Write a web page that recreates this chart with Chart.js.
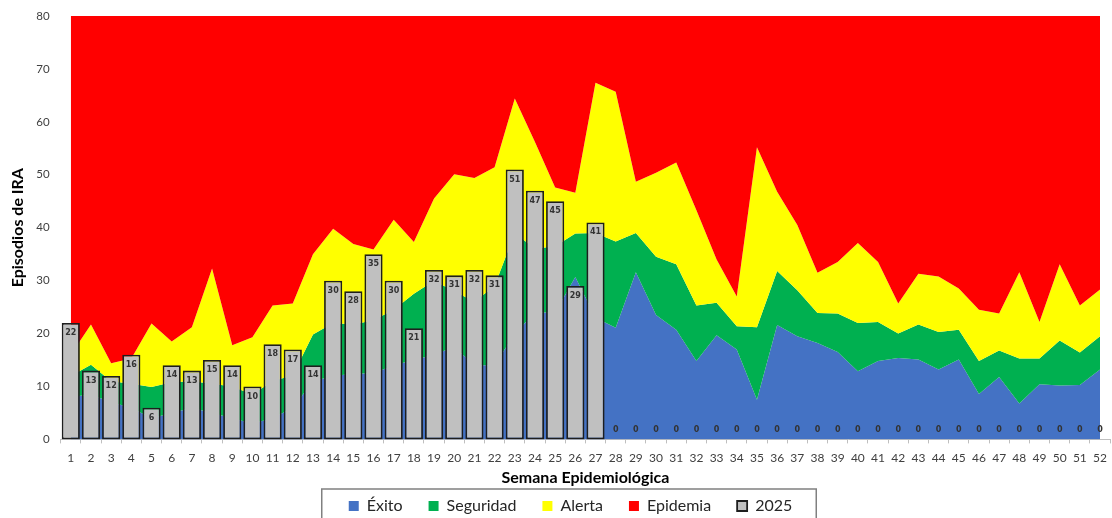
<!DOCTYPE html>
<html>
<head>
<meta charset="utf-8">
<script src="https://cdn.jsdelivr.net/npm/chart.js@4.4.1/dist/chart.umd.min.js"></script>
<style>
html,body{margin:0;padding:0;overflow:hidden;background:#ffffff;}
#wrap{position:relative;width:1115px;height:524px;}
</style>
</head>
<body>
<div id="wrap"><canvas id="c"></canvas></div>
<script>
// ----- data -----
const semanas = ['1','2','3','4','5','6','7','8','9','10','11','12','13','14','15','16','17','18','19','20','21','22','23','24','25','26','27','28','29','30','31','32','33','34','35','36','37','38','39','40','41','42','43','44','45','46','47','48','49','50','51','52'];

// upper limit of each zone of the endemic channel
const exito = [8,8.5,7,6,4,5,6,5,4,3,4,6,11,12,12.4,12.5,14,15,16,17.5,14,14,20,24,24,30.7,23,21.1,31.6,23.5,20.7,14.8,19.7,17.0,7.5,21.6,19.5,18.2,16.5,12.9,14.8,15.4,15.1,13.2,15.1,8.6,11.8,6.8,10.4,10.2,10.3,13.2];
const seguridad = [12,14.1,11,10.5,9.9,10.8,11,10.5,10,8.5,11,12.1,19.8,22,21.7,22.5,24.5,27.5,30,28,26,29,39,36,36.5,38.9,39.0,37.4,39.0,34.5,33.1,25.3,25.8,21.4,21.2,31.8,28.2,23.9,23.8,22.0,22.2,20.0,21.7,20.3,20.7,14.8,16.8,15.3,15.3,18.7,16.4,19.5];
const alerta = [16,21.7,14.4,15.3,21.9,18.5,21.2,32.3,17.8,19.3,25.3,25.7,35.0,39.8,36.9,35.9,41.5,37.3,45.5,50.1,49.4,51.4,64.4,56.2,47.6,46.6,67.4,65.7,48.7,50.4,52.3,43.3,34.0,27.0,55.2,46.8,40.5,31.5,33.5,37.1,33.5,25.7,31.3,30.8,28.5,24.5,23.8,31.6,22.2,33.1,25.3,28.3];
// observed episodes 2025
const casos2025 = [22,13,12,16,6,14,13,15,14,10,18,17,14,30,28,35,30,21,32,31,32,31,51,47,45,29,41,0,0,0,0,0,0,0,0,0,0,0,0,0,0,0,0,0,0,0,0,0,0,0,0,0];

const yMin = 0, yMax = 80, yStep = 10;

// ----- plugins -----
const barLabels = {
  id: 'barLabels',
  afterDatasetsDraw(chart) {
    const idx = chart.data.datasets.findIndex(d => d.type === 'bar');
    const meta = chart.getDatasetMeta(idx);
    const ctx = chart.ctx;
    ctx.save();
    ctx.font = 'bold 8px "DejaVu Sans"';
    ctx.fillStyle = '#333333';
    ctx.textAlign = 'center';
    ctx.textBaseline = 'middle';
    meta.data.forEach((bar, i) => {
      const v = casos2025[i];
      const y = v > 0 ? bar.y + 10 : bar.y - 9;
      ctx.fillText(String(v), bar.x, y);
    });
    ctx.restore();
  }
};

const legendFrame = {
  id: 'legendFrame',
  afterDraw(chart) {
    const lg = chart.legend;
    const hb = lg && lg.legendHitBoxes;
    if (!hb || !hb.length) return;
    const first = hb[0], last = hb[hb.length - 1];
    const left = first.left - 27;
    const right = last.left + last.width + 24;
    const top = first.top - 9;
    const ctx = chart.ctx;
    ctx.save();
    ctx.strokeStyle = '#808080';
    ctx.lineWidth = 1.5;
    ctx.strokeRect(left, top, right - left, 80);
    ctx.restore();
  }
};

const areaStyle = { type: 'line', pointRadius: 0, borderWidth: 0, borderColor: 'transparent', tension: 0 };

new Chart(document.getElementById('c'), {
  type: 'bar',
  data: {
    labels: semanas,
    datasets: [
      Object.assign({ label: 'Éxito', data: exito, backgroundColor: '#4472C4', fill: 'origin', order: 4 }, areaStyle),
      Object.assign({ label: 'Seguridad', data: seguridad, backgroundColor: '#00B050', fill: '-1', order: 3 }, areaStyle),
      Object.assign({ label: 'Alerta', data: alerta, backgroundColor: '#FFFF00', fill: '-1', order: 2 }, areaStyle),
      Object.assign({ label: 'Epidemia', data: alerta, backgroundColor: '#FF0000', fill: 'end', order: 1 }, areaStyle),
      {
        type: 'bar', label: '2025', data: casos2025,
        backgroundColor: '#C0C0C0', borderColor: '#1e1e1e', borderWidth: 1.8,
        borderSkipped: false, categoryPercentage: 1.0, barPercentage: 0.9, order: 0
      }
    ]
  },
  options: {
    responsive: true,
    maintainAspectRatio: false,
    animation: false,
    layout: { padding: { top: 16, left: 26, right: 0, bottom: 0 } },
    plugins: {
      tooltip: { enabled: false },
      legend: {
        position: 'bottom',
        labels: {
          sort: (a, b) => a.datasetIndex - b.datasetIndex,
          boxWidth: 10, boxHeight: 10, padding: 26,
          color: '#262626',
          font: { family: 'Lato', size: 16 }
        }
      }
    },
    scales: {
      x: {
        offset: true,
        grid: { display: true, drawOnChartArea: false, drawTicks: true, tickLength: 4, color: '#BFBFBF', offset: true },
        border: { display: true, color: '#BFBFBF', width: 1 },
        ticks: { autoSkip: false, maxRotation: 0, minRotation: 0, padding: 8, color: '#404040', font: { family: 'Lato', size: 12 } },
        title: { display: true, text: 'Semana Epidemiológica', color: '#000000', padding: { top: -6, bottom: -15 }, font: { family: 'Lato', size: 16, weight: 'bold' } }
      },
      y: {
        min: yMin, max: yMax,
        grid: { display: false, drawTicks: false },
        border: { display: false },
        ticks: { stepSize: yStep, padding: 11, color: '#404040', font: { family: 'Lato', size: 11.5 } },
        title: { display: true, text: 'Episodios de IRA', color: '#000000', padding: { top: -18, bottom: 0 }, font: { family: 'Lato', size: 16, weight: 'bold' } },
        afterFit(scale) { scale.width = 34.7; scale.paddingTop = 0; scale.paddingBottom = 0; }
      }
    }
  },
  plugins: [barLabels, legendFrame]
});
</script>
</body>
</html>
